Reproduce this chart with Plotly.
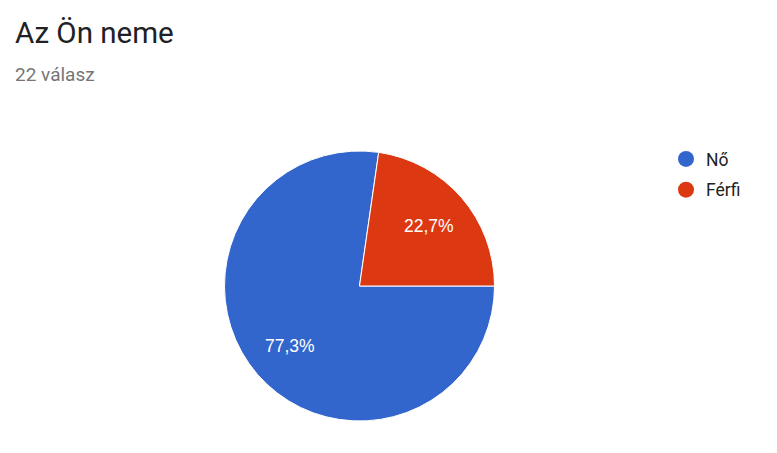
import math
import plotly.graph_objects as go

# survey answers
labels = ["Nő", "Férfi"]
counts = [17, 5]
colors = ["#3366cc", "#dc3912"]
title_text = "Az Ön neme"
subtitle_text = "22 válasz"

W, H = 777, 453
OFF = 8  # page body margin of the exported html

# pie geometry in page pixels
cx, cy, r = 359.5, 286, 135
start_angle = 90  # first slice starts at 3 o'clock, going clockwise


def px(x):
    return (x - OFF) / W


def py(y):
    return 1 - (y - OFF) / H


fig = go.Figure()

fig.add_trace(go.Pie(
    labels=labels,
    values=counts,
    sort=False,
    direction="clockwise",
    rotation=start_angle,
    marker=dict(colors=colors, line=dict(color="white", width=1)),
    textinfo="none",
    domain=dict(x=[px(cx - r), px(cx + r)], y=[py(cy + r), py(cy - r)]),
    showlegend=False,
    hoverinfo="label+percent",
))

# circle markers for the legend, like google forms
for lab, col in zip(labels, colors):
    fig.add_trace(go.Scatter(
        x=[None], y=[None], mode="markers", name=lab, legendgroup=lab,
        marker=dict(symbol="circle", size=16, color=col),
    ))

# percentage labels placed at the middle of each slice
total = sum(counts)
annos = []
cum = 0
for v in counts:
    ang = math.radians(start_angle + 360 * (cum + v / 2) / total)
    cum += v
    lx = cx + 0.68 * r * math.sin(ang)
    ly = cy - 0.68 * r * math.cos(ang)
    pct = f"{100 * v / total:.1f}".replace(".", ",") + "%"
    annos.append(dict(
        text=pct, x=px(lx), y=py(ly), xref="paper", yref="paper",
        showarrow=False, xanchor="center", yanchor="middle",
        font=dict(family="Liberation Sans, Arial", size=17.5, color="white"),
    ))

annos.append(dict(text=title_text, x=px(13), y=py(33), xref="paper", yref="paper",
                  showarrow=False, xanchor="left", yanchor="middle",
                  font=dict(family="Roboto", size=29.5, color="#202124")))
annos.append(dict(text=subtitle_text, x=px(13), y=py(75), xref="paper", yref="paper",
                  showarrow=False, xanchor="left", yanchor="middle",
                  font=dict(family="Roboto", size=19, color="#757575")))

fig.update_layout(
    width=W, height=H,
    margin=dict(l=0, r=0, t=0, b=0),
    paper_bgcolor="white",
    plot_bgcolor="white",
    font=dict(family="Roboto", color="#222222"),
    xaxis=dict(visible=False),
    yaxis=dict(visible=False),
    legend=dict(
        x=px(666), y=py(141), xanchor="left", yanchor="top",
        font=dict(family="Roboto", size=17.5, color="#222222"),
        itemsizing="trace", tracegroupgap=5,
        bgcolor="rgba(0,0,0,0)",
    ),
    annotations=annos,
)

fig.write_html("out.html")
